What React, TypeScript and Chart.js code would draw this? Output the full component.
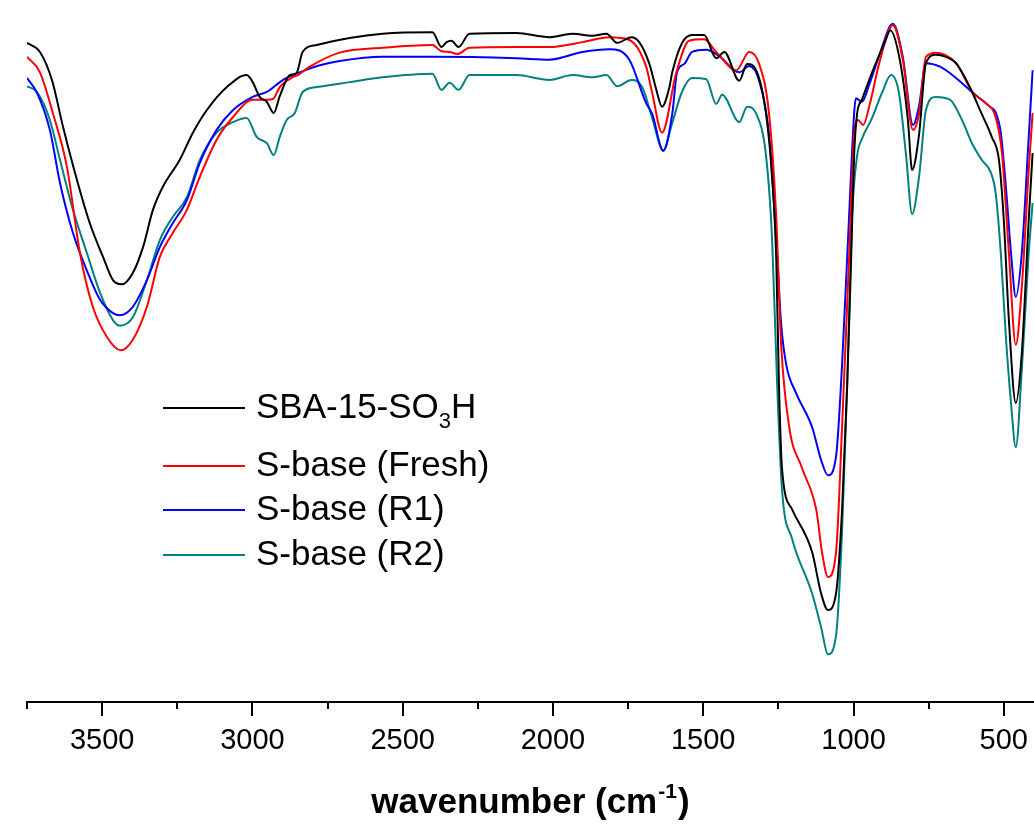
import React, { useEffect, useRef } from "react";
import { Chart, registerables } from "chart.js";

Chart.register(...registerables);

const X_MIN = 400;
const X_MAX = 3750;
const majorTicks = [3500, 3000, 2500, 2000, 1500, 1000, 500];
const minorTicks = [3750, 3250, 2750, 2250, 1750, 1250, 750];

const seriesNames = ["SBA-15-SO3H", "S-base (Fresh)", "S-base (R1)", "S-base (R2)"];
const seriesColors = ["#000000", "#ff0000", "#0000ff", "#008080"];

// SBA-15-SO3H (black)
const sbaWn = [3750, 3707, 3667, 3630, 3584, 3541, 3497, 3464, 3434, 3398, 3364, 3331, 3298, 3242, 3198, 3152, 3085, 3019, 2999, 2976, 2952, 2929, 2909, 2876, 2853, 2833, 2786, 2677, 2567, 2401, 2371, 2354, 2338, 2314, 2278, 2122, 2012, 1935, 1869, 1822, 1786, 1739, 1713, 1680, 1656, 1637, 1613, 1603, 1570, 1537, 1497, 1457, 1430, 1380, 1354, 1324, 1291, 1271, 1257, 1248, 1238, 1204, 1138, 1108, 1085, 1058, 1038, 1021, 1008, 998, 988, 972, 938, 892, 878, 846, 819, 805, 782, 759, 726, 693, 659, 613, 579, 540, 516, 500, 483, 460, 440, 417, 404];
const sbaT = [93.9, 92.6, 88.6, 81.9, 74.4, 68.2, 63.4, 60.1, 59.5, 61.1, 64.8, 70.1, 73.4, 77.2, 81.1, 84.3, 87.6, 89.3, 88.3, 86.2, 85.5, 83.9, 86.3, 89.3, 89.6, 92.6, 93.6, 94.6, 95.2, 95.4, 93.3, 94.0, 94.2, 93.3, 95.2, 95.3, 94.7, 95.2, 94.9, 95.2, 93.9, 94.7, 94.0, 91.0, 87.2, 84.8, 87.5, 89.7, 93.9, 95.0, 95.0, 91.7, 92.6, 88.5, 90.9, 90.0, 83.8, 74.8, 63.0, 45.2, 33.3, 27.4, 21.4, 15.5, 13.1, 15.5, 27.4, 45.2, 63.0, 77.8, 83.8, 85.8, 89.7, 94.4, 95.7, 91.5, 82.9, 75.8, 80.8, 91.0, 92.2, 91.9, 91.0, 87.6, 84.3, 80.5, 77.2, 68.7, 54.4, 42.6, 49.7, 68.7, 78.2];

// S-base (Fresh) (red)
const freshWn = [3750, 3707, 3664, 3617, 3574, 3531, 3484, 3438, 3398, 3351, 3308, 3265, 3218, 3175, 3119, 3065, 2999, 2952, 2932, 2909, 2866, 2849, 2809, 2710, 2567, 2401, 2371, 2344, 2318, 2278, 2122, 2012, 1902, 1812, 1746, 1690, 1670, 1637, 1590, 1547, 1497, 1457, 1390, 1347, 1314, 1281, 1257, 1241, 1214, 1171, 1124, 1105, 1085, 1058, 1038, 1015, 998, 985, 968, 945, 915, 869, 836, 802, 782, 759, 726, 659, 603, 560, 527, 506, 483, 460, 440, 417, 404];
const freshT = [91.9, 89.7, 83.9, 76.2, 64.0, 56.3, 52.0, 50.1, 51.6, 56.3, 63.4, 66.8, 70.1, 74.8, 80.1, 83.3, 85.8, 85.8, 85.9, 87.6, 89.0, 89.3, 90.5, 92.5, 93.2, 93.6, 92.7, 92.6, 92.3, 93.2, 93.3, 93.3, 94.0, 94.7, 94.3, 90.5, 86.8, 81.1, 89.6, 94.2, 94.4, 92.6, 90.0, 92.6, 90.9, 83.8, 68.9, 51.1, 39.2, 33.3, 27.4, 21.4, 17.8, 21.4, 39.2, 63.0, 80.8, 82.9, 82.2, 85.3, 90.9, 96.4, 91.5, 81.5, 83.8, 91.9, 92.5, 91.0, 86.8, 85.3, 83.3, 78.2, 64.0, 50.9, 59.1, 75.8, 83.9];

// S-base (R1) (blue)
const r1Wn = [3750, 3717, 3674, 3640, 3597, 3551, 3507, 3464, 3441, 3398, 3351, 3308, 3265, 3218, 3175, 3119, 3065, 2999, 2952, 2899, 2843, 2776, 2710, 2567, 2401, 2122, 2012, 1902, 1812, 1746, 1690, 1670, 1633, 1603, 1587, 1563, 1537, 1490, 1447, 1380, 1347, 1314, 1281, 1257, 1241, 1224, 1191, 1138, 1108, 1085, 1058, 1038, 1015, 998, 992, 972, 948, 915, 869, 836, 802, 782, 759, 712, 659, 603, 546, 527, 510, 493, 476, 460, 440, 417, 404];
const r1T = [88.9, 86.8, 81.5, 73.9, 66.8, 61.5, 57.3, 55.4, 55.1, 56.3, 60.1, 64.8, 68.2, 71.5, 76.8, 81.5, 84.3, 86.2, 86.9, 88.6, 89.7, 90.7, 91.3, 91.9, 91.9, 91.7, 91.5, 92.6, 93.0, 91.5, 85.3, 83.8, 78.5, 83.8, 89.7, 90.9, 92.6, 92.9, 92.0, 89.7, 90.6, 88.5, 80.8, 66.0, 54.0, 48.1, 44.0, 39.2, 34.5, 32.3, 35.0, 48.1, 68.9, 83.8, 86.0, 85.5, 87.9, 92.0, 96.6, 91.9, 82.2, 84.9, 91.0, 90.5, 88.9, 86.8, 84.8, 84.0, 81.1, 73.4, 64.0, 57.7, 64.0, 80.5, 90.0];

// S-base (R2) (teal)
const r2Wn = [3750, 3717, 3674, 3640, 3597, 3551, 3507, 3464, 3441, 3398, 3351, 3308, 3265, 3218, 3175, 3119, 3065, 3019, 2986, 2952, 2929, 2909, 2886, 2859, 2833, 2786, 2677, 2567, 2401, 2371, 2344, 2314, 2278, 2122, 2012, 1935, 1869, 1822, 1786, 1739, 1703, 1670, 1633, 1603, 1570, 1537, 1490, 1457, 1437, 1380, 1354, 1324, 1291, 1271, 1254, 1238, 1204, 1138, 1108, 1085, 1058, 1038, 1021, 1005, 988, 972, 938, 905, 875, 849, 825, 805, 782, 759, 726, 679, 639, 606, 573, 543, 527, 510, 493, 476, 460, 440, 417, 404];
const r2T = [87.7, 86.9, 82.9, 77.2, 70.1, 64.0, 58.3, 54.4, 53.6, 54.8, 60.1, 65.8, 69.1, 71.9, 77.2, 81.1, 82.6, 83.2, 80.5, 79.6, 77.9, 80.5, 82.9, 83.9, 86.9, 87.6, 88.3, 89.0, 89.5, 87.2, 88.2, 87.2, 89.3, 89.3, 88.6, 89.3, 89.0, 89.3, 87.7, 88.6, 87.6, 83.2, 78.6, 82.5, 87.0, 88.9, 88.7, 85.2, 86.5, 82.6, 84.8, 83.8, 77.8, 66.0, 45.2, 30.3, 23.2, 15.5, 10.7, 6.8, 9.5, 24.4, 45.2, 68.9, 77.8, 80.2, 83.2, 86.8, 89.3, 86.8, 77.8, 69.5, 74.8, 84.3, 86.2, 85.8, 82.9, 79.6, 77.2, 75.4, 72.5, 64.0, 52.0, 42.6, 36.3, 47.3, 64.0, 71.1];

const seriesWn = [sbaWn, freshWn, r1Wn, r2Wn];
const seriesT = [sbaT, freshT, r1T, r2T];

const FONT = "'Liberation Sans', Arial, Helvetica, sans-serif";

const minorTickPlugin = {
  id: "minorTicks",
  afterDraw(chart: any) {
    const { ctx, chartArea } = chart;
    const xs = chart.scales.x;
    ctx.save();
    ctx.strokeStyle = "#000";
    ctx.lineWidth = 2;
    for (const v of minorTicks) {
      const px = Math.round(xs.getPixelForValue(v));
      ctx.beginPath();
      ctx.moveTo(px, chartArea.bottom);
      ctx.lineTo(px, chartArea.bottom + 7);
      ctx.stroke();
    }
    ctx.restore();
  },
};

const titlePlugin = {
  id: "axisTitle",
  afterDraw(chart: any) {
    const { ctx, chartArea } = chart;
    const main1 = "wavenumber (cm";
    const sup = "-1";
    const main2 = ")";
    ctx.save();
    ctx.fillStyle = "#000";
    ctx.textBaseline = "alphabetic";
    ctx.textAlign = "left";
    const bigFont = `bold 35px ${FONT}`;
    const smallFont = `bold 21px ${FONT}`;
    ctx.font = bigFont;
    const w1 = ctx.measureText(main1).width;
    const w3 = ctx.measureText(main2).width;
    ctx.font = smallFont;
    const w2 = ctx.measureText(sup).width;
    const total = w1 + w2 + w3 + 2;
    const cx = (chartArea.left + chartArea.right) / 2;
    let x = cx - total / 2;
    const baseY = 813;
    ctx.font = bigFont;
    ctx.fillText(main1, x, baseY);
    x += w1 + 1;
    ctx.font = smallFont;
    ctx.fillText(sup, x, baseY - 15);
    x += w2 + 1;
    ctx.font = bigFont;
    ctx.fillText(main2, x, baseY);
    ctx.restore();
  },
};

const legendPlugin = {
  id: "customLegend",
  afterDraw(chart: any) {
    const { ctx, chartArea } = chart;
    const rowsY = [408, 466, 510, 555];
    const lineX0 = chartArea.left + 136;
    const lineX1 = chartArea.left + 218;
    const textX = chartArea.left + 229;
    ctx.save();
    ctx.textBaseline = "middle";
    ctx.textAlign = "left";
    seriesNames.forEach((name, i) => {
      const y = rowsY[i];
      ctx.strokeStyle = seriesColors[i];
      ctx.lineWidth = 2;
      ctx.beginPath();
      ctx.moveTo(lineX0, y);
      ctx.lineTo(lineX1, y);
      ctx.stroke();
      ctx.fillStyle = "#000";
      const big = `35px ${FONT}`;
      const small = `22px ${FONT}`;
      if (name === "SBA-15-SO3H") {
        const a = "SBA-15-SO";
        const b = "3";
        const c = "H";
        ctx.font = big;
        ctx.fillText(a, textX, y);
        const wa = ctx.measureText(a).width;
        ctx.font = small;
        ctx.fillText(b, textX + wa, y + 14);
        const wb = ctx.measureText(b).width;
        ctx.font = big;
        ctx.fillText(c, textX + wa + wb, y);
      } else {
        ctx.font = big;
        ctx.fillText(name, textX, y);
      }
    });
    ctx.restore();
  },
};

export default function App() {
  const canvasRef = useRef<HTMLCanvasElement | null>(null);

  useEffect(() => {
    if (!canvasRef.current) return;
    const datasets = seriesNames.map((name, i) => ({
      label: name,
      data: seriesWn[i].map((w, j) => ({ x: w, y: seriesT[i][j] })),
      borderColor: seriesColors[i],
      backgroundColor: seriesColors[i],
      borderWidth: 2,
      pointRadius: 0,
      fill: false,
      cubicInterpolationMode: "monotone" as const,
    }));
    const chart = new Chart(canvasRef.current, {
      type: "line",
      data: { datasets },
      options: {
        animation: false,
        responsive: true,
        maintainAspectRatio: false,
        layout: { padding: { left: 27, right: 1, top: 0, bottom: 0 } },
        plugins: {
          legend: { display: false },
          tooltip: { enabled: false },
          title: { display: false },
        },
        scales: {
          x: {
            type: "linear",
            reverse: true,
            min: X_MIN,
            max: X_MAX,
            afterBuildTicks: (s: any) => {
              s.ticks = majorTicks.map((v) => ({ value: v }));
            },
            afterFit: (s: any) => {
              s.height = 124;
            },
            ticks: {
              color: "#000",
              font: { family: FONT, size: 29 },
              padding: 8,
              maxRotation: 0,
              autoSkip: false,
              callback: (v: any) => String(v),
            },
            grid: {
              display: true,
              drawOnChartArea: false,
              drawTicks: true,
              tickLength: 14,
              color: "#000",
              lineWidth: 2,
            },
            border: { display: true, color: "#000", width: 2 },
          },
          y: {
            type: "linear",
            display: false,
            min: 0,
            max: 100,
          },
        },
      },
      plugins: [minorTickPlugin, titlePlugin, legendPlugin],
    });
    return () => chart.destroy();
  }, []);

  return (
    <div style={{ position: "fixed", left: 0, top: 0, width: 1036, height: 826, background: "#fff" }}>
      <canvas ref={canvasRef} />
    </div>
  );
}
